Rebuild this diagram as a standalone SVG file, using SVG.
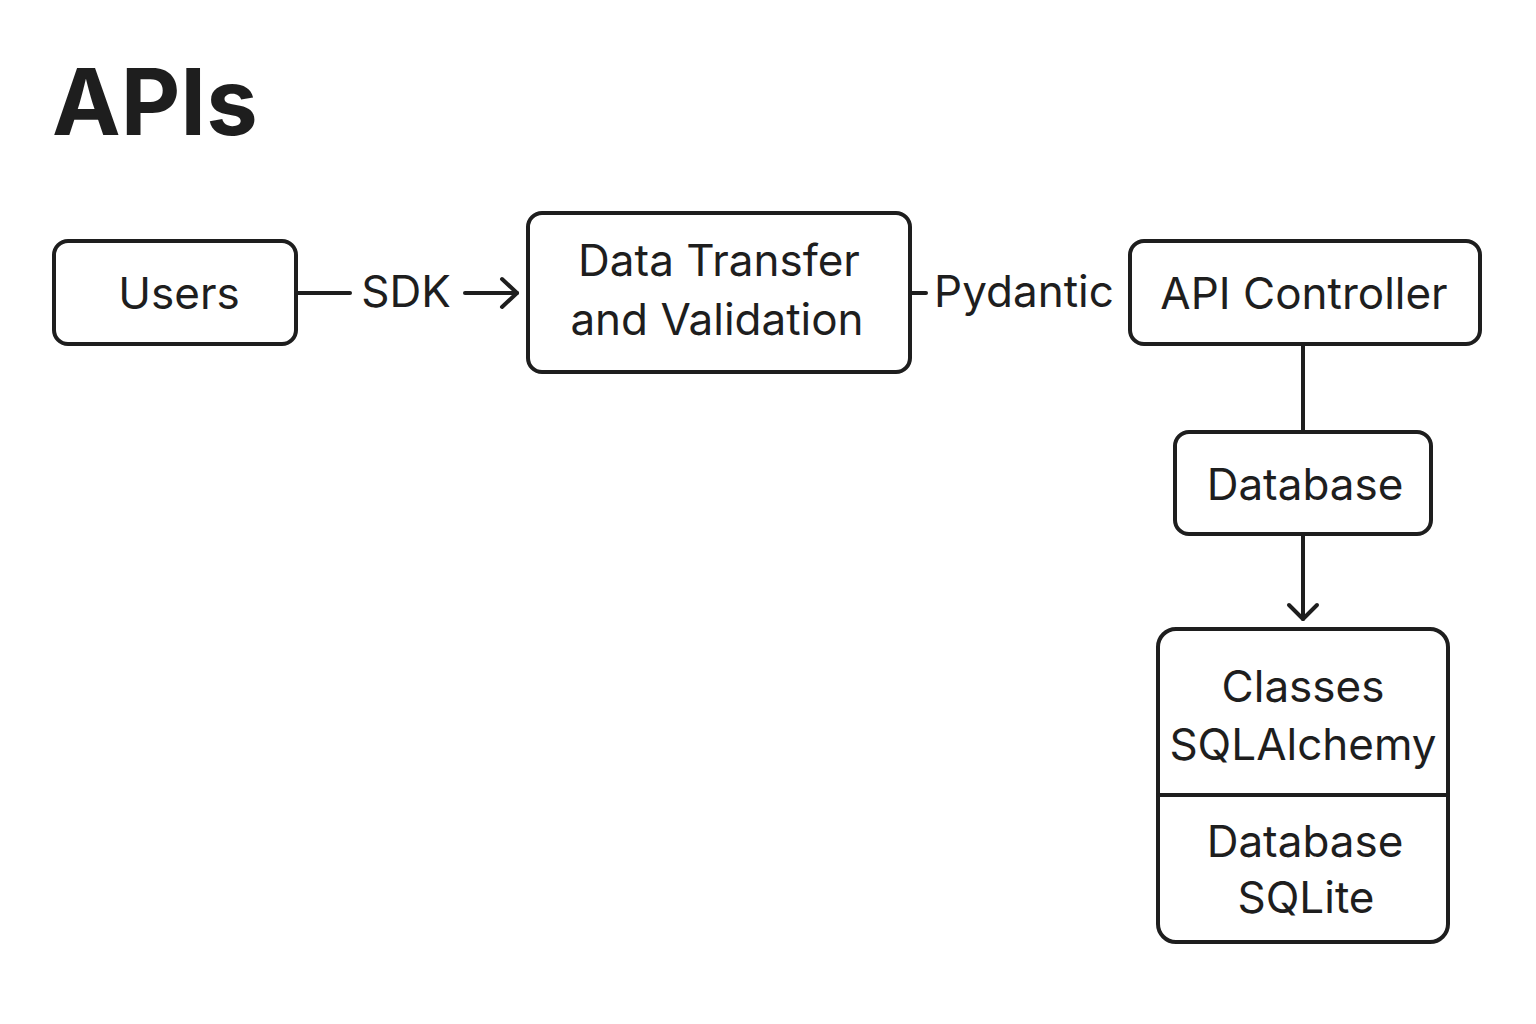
<svg xmlns="http://www.w3.org/2000/svg" width="1536" height="1024" viewBox="0 0 1536 1024">
<defs>
<style>
.box{fill:#fff;stroke:#1e1e1e;stroke-width:4}
.ln{fill:none;stroke:#1e1e1e;stroke-width:4;stroke-linecap:round;stroke-linejoin:round}
.t{font-family:Inter,"Liberation Sans",sans-serif;font-size:44px;fill:#1e1e1e;text-anchor:middle}
.title{font-family:Inter,"Liberation Sans",sans-serif;font-size:92px;font-weight:bold;fill:#1e1e1e}
</style>
</defs>
<rect width="1536" height="1024" fill="#fff"/>
<text class="title" x="52" y="135">APIs</text>
<g id="connectors">
<line class="ln" x1="296" y1="293" x2="350" y2="293"/>
<text class="t" x="406" y="307">SDK</text>
<line class="ln" x1="465" y1="293" x2="517" y2="293"/>
<polyline class="ln" points="502,279 517,293 502,307"/>
<line class="ln" x1="910" y1="293" x2="926" y2="293"/>
<text class="t" x="1024" y="307">Pydantic</text>
<line class="ln" x1="1303" y1="344" x2="1303" y2="432"/>
<line class="ln" x1="1303" y1="534" x2="1303" y2="619"/>
<polyline class="ln" points="1289,605 1303,619 1317,605"/>
</g>
<g id="users">
<rect class="box" x="54" y="241" width="242" height="103" rx="14"/>
<text class="t" x="179" y="309">Users</text>
</g>
<g id="dtv">
<rect class="box" x="528" y="213" width="382" height="159" rx="14"/>
<text class="t" x="719" y="276">Data Transfer</text>
<text class="t" x="717" y="335">and Validation</text>
</g>
<g id="api">
<rect class="box" x="1130" y="241" width="350" height="103" rx="14"/>
<text class="t" x="1304" y="309">API Controller</text>
</g>
<g id="database">
<rect class="box" x="1175" y="432" width="256" height="102" rx="14"/>
<text class="t" x="1305" y="500">Database</text>
</g>
<g id="storage">
<rect class="box" x="1158" y="629" width="290" height="313" rx="18"/>
<line class="ln" x1="1158" y1="795" x2="1448" y2="795"/>
<text class="t" x="1303" y="702">Classes</text>
<text class="t" x="1303" y="760">SQLAlchemy</text>
<text class="t" x="1305" y="857">Database</text>
<text class="t" x="1306" y="913">SQLite</text>
</g>
</svg>
